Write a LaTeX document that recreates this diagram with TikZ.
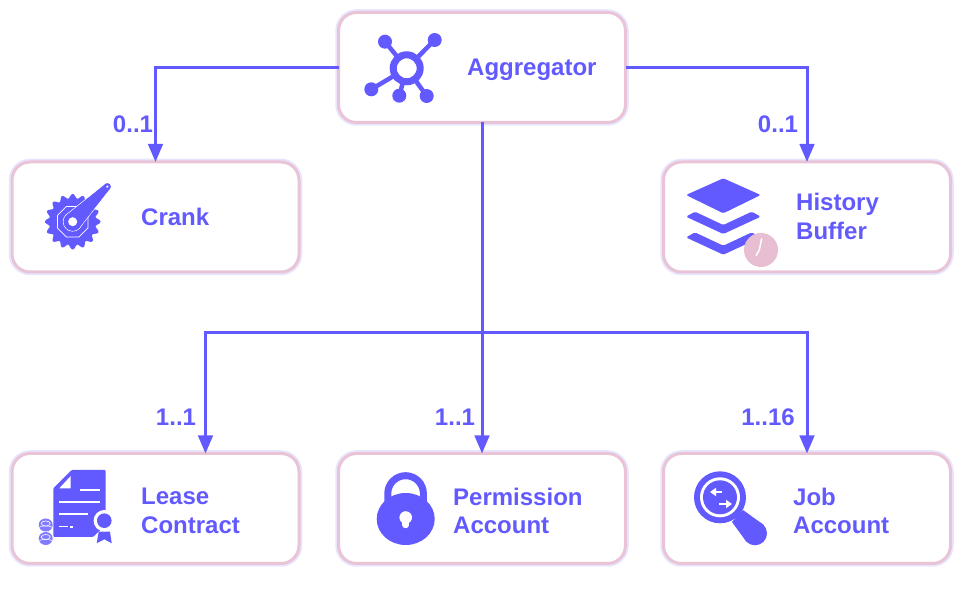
\documentclass[tikz,border=0pt]{standalone}
\usepackage{fontspec}
\setmainfont{Liberation Sans}
\usetikzlibrary{arrows.meta}
\definecolor{iconblue}{RGB}{98,90,255}
\definecolor{boxpink}{RGB}{233,196,214}
\definecolor{boxglow}{RGB}{232,230,255}
\definecolor{clockpink}{RGB}{232,190,210}
\tikzset{
    boxnode/.style={draw=boxpink,line width=3pt,fill=white,rounded corners=18pt,minimum width=287pt,minimum height=110pt,inner sep=0pt,outer sep=0pt,preaction={draw=boxglow,line width=6.5pt}},
    boxtext/.style={anchor=west,align=left,inner sep=0pt,text=iconblue,font=\fontsize{24}{28.5}\selectfont\bfseries},
    multlabel/.style={inner sep=0pt,text=iconblue,font=\fontsize{24}{28}\selectfont\bfseries},
    link/.style={draw=iconblue,line width=3pt},
    arrowlink/.style={link,-{Triangle[length=18pt,width=14.5pt]}},
    spoke/.style={draw=iconblue,line width=4.5pt},
    gap/.style={draw=white,line width=2pt},
    swaparrow/.style={draw=white,line width=2.4pt,-{Triangle[length=6pt,width=8pt]}}
}
\begin{document}
\begin{tikzpicture}[x=1pt,y=-1pt]
    \useasboundingbox (0,0) rectangle (962,593);

    % connectors first, the boxes sit on top of them
    \node[boxnode] (aggregator) at (482,67.5) {};
    \node[boxnode] (crank) at (155.5,217) {};
    \node[boxnode] (history) at (807,217) {};
    \node[boxnode] (lease) at (155.5,508.5) {};
    \node[boxnode] (permission) at (482,508.5) {};
    \node[boxnode] (job) at (807,508.5) {};

    \coordinate (branch) at (482,333);
    \draw[arrowlink] (aggregator.west) -| (crank.north);
    \draw[arrowlink] (aggregator.east) -| (history.north);
    \draw[arrowlink] (aggregator.south) -- (permission.north);
    \draw[arrowlink] (branch) -| ([xshift=50pt]lease.north);
    \draw[arrowlink] (branch) -| (job.north);

    \node[boxtext] (aggregatortext) at (467,69.5) {Aggregator};
    \node[boxtext] (cranktext) at (141,216.5) {Crank};
    \node[boxtext] (historytext) at (796,216.5) {History\\Buffer};
    \node[boxtext] (leasetext) at (141,511) {Lease\\Contract};
    \node[boxtext] (permissiontext) at (453,511) {Permission\\Account};
    \node[boxtext] (jobtext) at (793,511) {Job\\Account};

    \node[multlabel] (cranklabel) at (133,124) {0..1};
    \node[multlabel] (historylabel) at (778,124) {0..1};
    \node[multlabel] (leaselabel) at (176,417) {1..1};
    \node[multlabel] (permissionlabel) at (455,417) {1..1};
    \node[multlabel] (joblabel) at (768,417) {1..16};

    % aggregator icon
    \draw[spoke] (406.7,68.3) -- (385,41.7);
    \draw[spoke] (406.7,68.3) -- (434.7,40);
    \draw[spoke] (406.7,68.3) -- (371.3,89.3);
    \draw[spoke] (406.7,68.3) -- (399.3,95.7);
    \draw[spoke] (406.7,68.3) -- (426.7,96);
    \foreach \px/\py in {385/41.7,434.7/40,371.3/89.3,399.3/95.7,426.7/96}
        \fill[iconblue] (\px,\py) circle (7);
    \fill[white] (406.7,68.3) circle (15);
    \draw[iconblue,line width=7pt] (406.7,68.3) circle (13.5);

    % crank icon
    \fill[iconblue] plot[domain=0:360,samples=193,smooth] ({72.7+(25.6+2.2*cos(16*\x))*cos(\x)},{221.7+(25.6+2.2*cos(16*\x))*sin(\x)}) -- cycle;
    \draw[white,line width=0.7pt] plot[domain=22.5:382.5,samples=9] ({72.7+16.5*cos(\x)},{221.7+16.5*sin(\x)});
    \filldraw[iconblue,draw=white,line width=0.7pt] (72.7,221.7) circle (9.5);
    \filldraw[iconblue,draw=white,line width=0.7pt] (79.2,228.3) -- (109.8,189.2) -- (104.8,184.2) -- (66,215) -- cycle;
    \fill[iconblue] (72.7,221.7) circle (9.1);
    \fill[iconblue] (107.3,186.7) circle (3.6);
    \fill[iconblue] (79,228) -- (109.6,189) -- (105,184.4) -- (66.3,215.3) -- cycle;
    \fill[white] (72.7,221.7) circle (4.5);
    \fill[white] (107.3,186.7) circle (1.2);

    % history buffer icon
    \fill[iconblue,rounded corners=1.5pt] (686,195) -- (723.3,178.3) -- (760.7,195) -- (723.3,213.3) -- cycle;
    \foreach \dy in {0,20.7}
        \fill[iconblue,rounded corners=1.5pt] (686,216.7+\dy) -- (695,211.7+\dy) -- (723.3,225+\dy) -- (751.7,211.7+\dy) -- (760.7,216.7+\dy) -- (723.3,234+\dy) -- cycle;
    \fill[clockpink] (761,250) circle (17);
    \draw[white,line width=1.5pt] (761.7,238.3) -- (759.3,250) -- (756,255.7);

    % lease contract icon
    \fill[iconblue,rounded corners=1pt] (71.7,470) -- (105.7,470) -- (105.7,525) -- (93,537) -- (53.3,537) -- (53.3,488.3) -- cycle;
    \fill[white] (70.7,476) -- (70.7,488.3) -- (59.3,488.3) -- cycle;
    \draw[gap] (80,490) -- (100,490);
    \draw[gap] (59.3,502) -- (100,502);
    \draw[gap] (59.3,514.3) -- (88.3,514.3);
    \draw[white,line width=1pt] (59.3,526.7) -- (68,526.7);
    \draw[gap] (70,526.7) -- (73.3,526.7);
    \fill[iconblue] (98.7,531.7) -- (110,531.7) -- (111.7,543.3) -- (104.3,539.3) -- (96.7,543.3) -- cycle;
    \fill[white] (104.3,520.7) circle (10.7);
    \fill[iconblue] (104.3,520.7) circle (7.3);
    \foreach \cy in {525,538.5}{
        \fill[iconblue!80] (45.7,\cy) ellipse (7 and 6.5);
        \draw[white,line width=0.6pt] (45.7,\cy-1.5) ellipse (4.5 and 2.5);
        \draw[white,line width=0.5pt] (39,\cy+2.5) arc (180:360:6.7 and 1.5);
    }

    % permission account icon
    \draw[iconblue,line width=7pt] (387.8,505) -- (387.8,493.5) arc (180:360:17.8) -- (423.4,505);
    \fill[iconblue] (405.7,519) ellipse (29 and 26);
    \fill[white] (405.7,517.5) circle (6.3);
    \draw[white,line width=6.5pt,line cap=round] (405.7,518) -- (405.7,525);

    % job account icon
    \fill[iconblue] (743,510) -- (763.6,524.9) -- (746.4,541.7) -- (732,522) -- cycle;
    \fill[iconblue] (755,533.3) circle (12);
    \fill[iconblue] (720,497.3) circle (26);
    \fill[white] (720,497.3) circle (20);
    \fill[iconblue] (720,497.3) circle (17);
    \draw[swaparrow] (722,492) -- (710,492);
    \draw[swaparrow] (719,504) -- (732,504);
\end{tikzpicture}
\end{document}
